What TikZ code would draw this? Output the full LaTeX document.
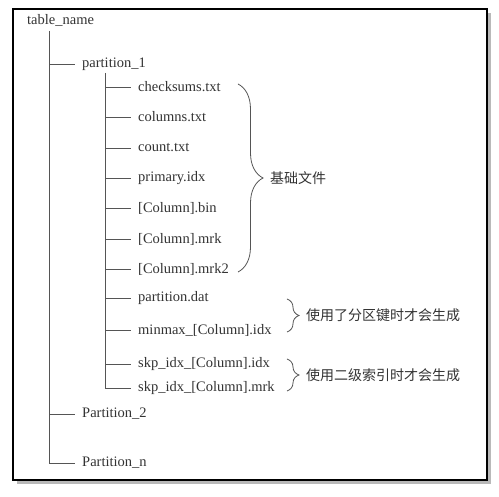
\documentclass[tikz,border=0pt]{standalone}
\usepackage{fontspec}
\setmainfont{Liberation Serif}
\newfontfamily\cjk{Noto Sans CJK SC}
\usetikzlibrary{calc,decorations.pathreplacing}
\definecolor{txt}{HTML}{333333}
\definecolor{ln}{HTML}{555555}
\tikzset{
	entry/.style={anchor=west, inner xsep=7pt, inner ysep=2pt, text=txt, font=\fontsize{14.5}{17}\selectfont},
	branch/.style={draw=ln, line width=0.8pt},
	brc/.style={draw=ln, line width=0.8pt, decorate},
	note/.style={anchor=west, inner sep=0pt, text=txt, font=\cjk\fontsize{14}{16}\selectfont}
}
\begin{document}
\begin{tikzpicture}[x=1pt,y=1pt]
	\useasboundingbox (0,0) rectangle (499,497);
	\fill[gray!55] (17,13) rectangle (491,484);
	\draw[line width=2.6pt, fill=white] (13,17) rectangle (487,488);

	\node[entry] (root) at (20,477) {table\_name};
	\coordinate (trunk) at (49,466);
	\node[entry] (p1) at (75,433) {partition\_1};
	\node[entry] (p2) at (75,83) {Partition\_2};
	\node[entry] (pn) at (75,34) {Partition\_n};
	\draw[branch] (trunk) |- (pn.west);
	\draw[branch] (trunk |- p1.west) -- (p1.west);
	\draw[branch] (trunk |- p2.west) -- (p2.west);

	\coordinate (sub) at (105,424);
	\foreach \ypos/\name [count=\i] in
	{410/checksums.txt, 380/columns.txt, 349/count.txt, 319/primary.idx,
	 289/{[Column].bin}, 258/{[Column].mrk}, 228/{[Column].mrk2},
	 199/partition.dat, 167/{minmax\_[Column].idx},
	 133/{skp\_idx\_[Column].idx}, 109/{skp\_idx\_[Column].mrk}}
	{
		\node[entry] (file-\i) at (131,\ypos) {\name};
		\draw[branch] (sub |- file-\i.west) -- (file-\i.west);
	}
	\draw[branch] (sub) -- (sub |- file-11.west);

	\draw[brc, decoration={brace, amplitude=25pt}] (238,413) -- (238,225);
	\node[note] (base) at (270,319) {基础文件};
	\draw[brc, decoration={brace, amplitude=12pt}] (287,198) -- (287,165);
	\node[note] (pkey) at (306,182) {使用了分区键时才会生成};
	\draw[brc, decoration={brace, amplitude=12pt}] (287,138) -- (287,106);
	\node[note] (skip) at (306,122) {使用二级索引时才会生成};
\end{tikzpicture}
\end{document}
